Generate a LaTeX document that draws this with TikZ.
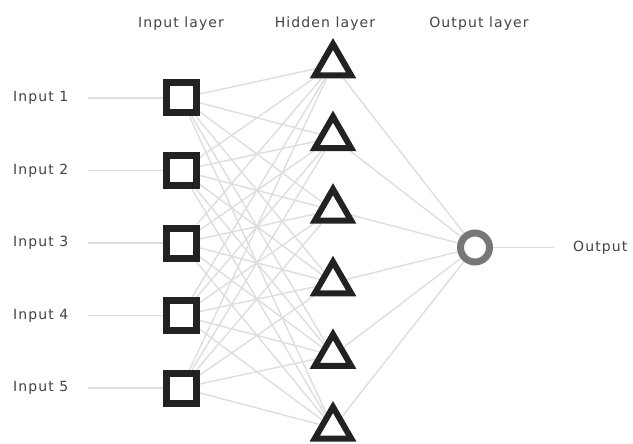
\documentclass[tikz,border=0pt]{standalone}
\usepackage{fontspec}
\setmainfont[LetterSpace=8]{DejaVu Sans}
\usetikzlibrary{shapes.geometric,backgrounds}
\definecolor{txt}{HTML}{444444}
\definecolor{edge}{HTML}{DEDEDE}
\definecolor{sq}{HTML}{222222}
\definecolor{circ}{HTML}{777777}
\begin{document}
\begin{tikzpicture}[x=1pt,y=-1pt,
  lbl/.style={text=txt,font=\fontsize{14}{16}\selectfont,inner sep=0pt},
  sqnode/.style={draw=sq,fill=white,line width=7pt,minimum size=30pt,inner sep=0pt,rectangle},
  trinode/.style={draw=sq,fill=white,line width=6pt,regular polygon,regular polygon sides=3,minimum size=42pt,inner sep=0pt,line join=miter},
  outnode/.style={draw=circ,fill=white,line width=7pt,circle,minimum size=29pt,inner sep=0pt},
  conn/.style={draw=edge,line width=1.4pt}]
\useasboundingbox (0,0) rectangle (633,444);
% headers
\node[lbl] (h1) at (181,24) {Input layer};
\node[lbl] (h2) at (325,24) {Hidden layer};
\node[lbl] (h3) at (479,24) {Output layer};
% input nodes and labels
\foreach \i/\y in {1/98,2/170.5,3/243,4/315.5,5/388}{
  \node[lbl,anchor=west] (l\i) at (13,\y) {Input \i};
  \coordinate (c\i) at (88,\y);
  \node[sqnode] (s\i) at (181,\y) {};
}
% hidden nodes
\foreach \j/\y in {1/65,2/137.6,3/210.2,4/282.8,5/355.4,6/428}{
  \node[trinode] (t\j) at (333,\y) {};
}
\node[outnode] (o) at (475,247.5) {};
\coordinate (oc) at (555,247.5);
\node[lbl,anchor=west] (ol) at (573,247.5) {Output};
% connectors
\begin{scope}[on background layer]
\fill[white] (0,0) rectangle (633,444);
\foreach \i in {1,...,5}{
  \draw[conn] (c\i) -- (s\i);
  \foreach \j in {1,...,6}{
    \draw[conn] (s\i) -- (t\j);
  }
}
\foreach \j in {1,...,6}{
  \draw[conn] (t\j) -- (o);
}
\draw[conn] (o) -- (oc);
\end{scope}
\end{tikzpicture}
\end{document}
